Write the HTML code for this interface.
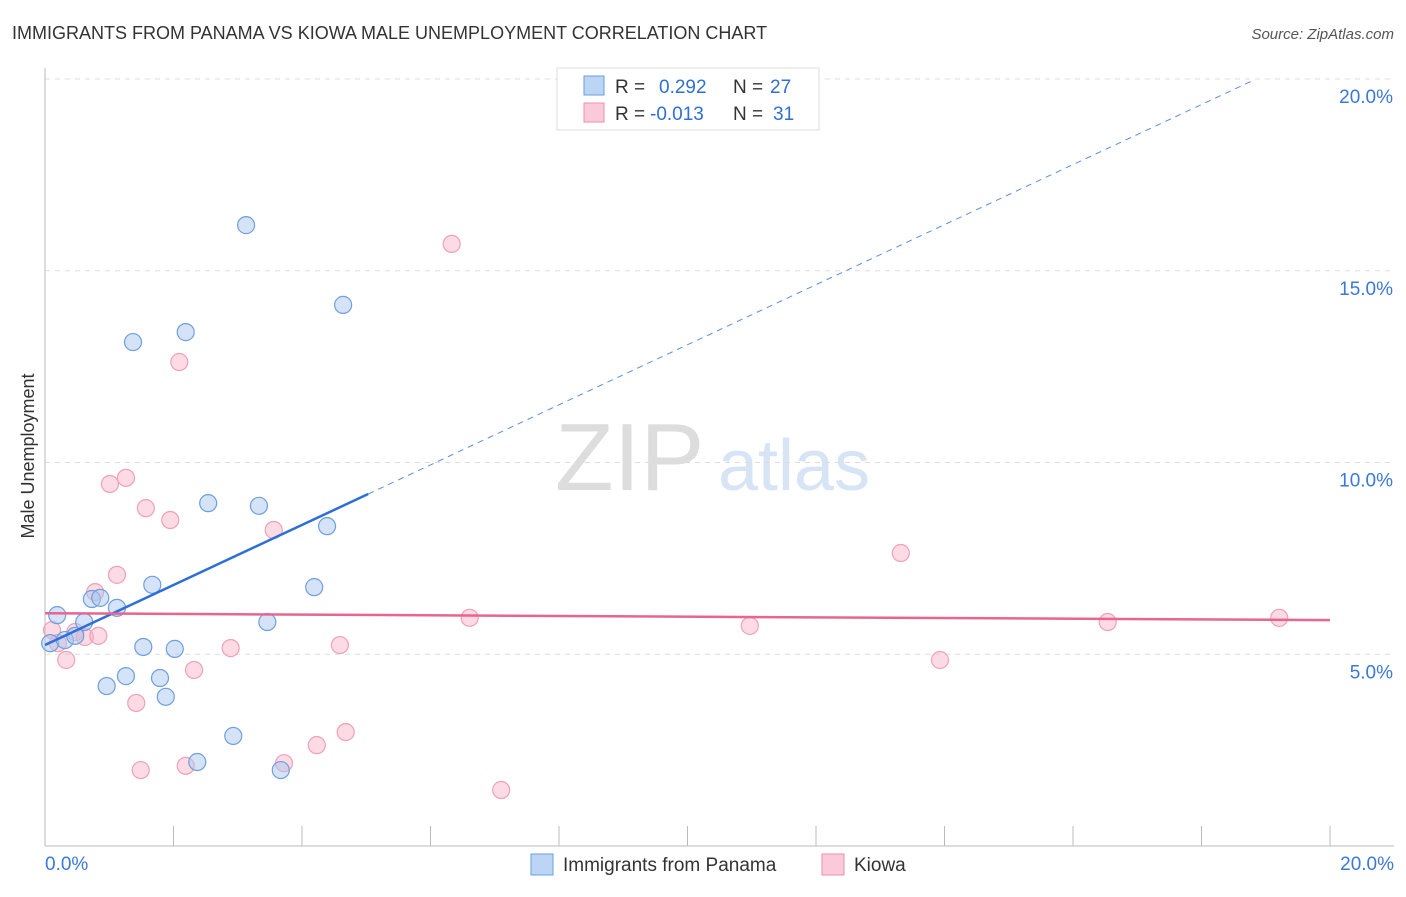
<!DOCTYPE html>
<html><head><meta charset="utf-8"><style>
body{margin:0;background:#fff;font-family:"Liberation Sans",sans-serif;}
svg text{font-family:"Liberation Sans",sans-serif;}
</style></head><body>
<svg width="1406" height="892" xmlns="http://www.w3.org/2000/svg" id="chart">
<text x="12" y="39" font-size="18" fill="#333">IMMIGRANTS FROM PANAMA VS KIOWA MALE UNEMPLOYMENT CORRELATION CHART</text>
<text x="1394" y="39" font-size="15" fill="#555" font-style="italic" text-anchor="end">Source: ZipAtlas.com</text>
<text x="555" y="490" font-size="96" fill="#ddd" font-family="Liberation Serif">ZIP</text>
<text x="718" y="490" font-size="72" fill="#d6e4f5">atlas</text>
<text transform="translate(34,456) rotate(-90)" font-size="18" fill="#333" text-anchor="middle">Male Unemployment</text>
<g id="grid"></g><g id="axes"></g><g id="marks"></g>
<g>
<rect x="557" y="68" width="262" height="62" fill="#fff" stroke="#ddd"/>
<rect x="584" y="76" width="20" height="19" fill="#bcd5f5" stroke="#6a9ee0"/>
<rect x="584" y="103" width="20" height="19" fill="#fbcad8" stroke="#f08fae"/>
<text x="615" y="93" font-size="19" fill="#333">R = <tspan x="659" fill="#2f6fd6">0.292</tspan><tspan x="733" fill="#333">N =</tspan><tspan x="770" fill="#2f6fd6">27</tspan></text>
<text x="615" y="120" font-size="19" fill="#333">R = <tspan x="650" fill="#2f6fd6">-0.013</tspan><tspan x="733" fill="#333">N =</tspan><tspan x="773" fill="#2f6fd6">31</tspan></text>
</g>
<g>
<rect x="531" y="854" width="22" height="21" fill="#bcd5f5" stroke="#6a9ee0"/>
<text x="563" y="871" font-size="19" fill="#333">Immigrants from Panama</text>
<rect x="822" y="854" width="22" height="21" fill="#fbcad8" stroke="#f08fae"/>
<text x="854" y="871" font-size="19" fill="#333">Kiowa</text>
</g>
</svg>
<script>
const yTicks=[5,10,15,20];
const yTickLabels=["5.0%","10.0%","15.0%","20.0%"];
const xTickLabels=["0.0%","20.0%"];
const panamaX=[0.08,0.19,0.31,0.47,0.61,0.73,0.86,1.12,0.96,1.26,1.37,1.53,1.67,1.79,1.88,2.02,2.19,2.37,2.54,2.93,3.13,3.33,3.46,3.67,4.19,4.39,4.64];
const panamaY=[5.29,6.02,5.37,5.48,5.84,6.44,6.47,6.21,4.17,4.43,13.14,5.19,6.81,4.38,3.89,5.14,13.40,2.19,8.94,2.87,16.19,8.87,5.84,1.98,6.75,8.34,14.11];
const kiowaX=[0.11,0.2,0.33,0.47,0.62,0.78,0.83,1.01,1.12,1.26,1.42,1.49,1.57,1.95,2.09,2.19,2.32,2.89,3.56,3.72,4.23,4.59,4.68,6.33,6.61,7.10,10.97,13.32,13.93,16.54,19.21];
const kiowaY=[5.63,5.29,4.85,5.58,5.45,6.62,5.48,9.44,7.07,9.60,3.73,1.98,8.81,8.50,12.62,2.09,4.59,5.16,8.24,2.16,2.63,5.24,2.97,15.70,5.95,1.46,5.74,7.64,4.85,5.84,5.95];
const panamaTrend=[5.24,20.9];
const panamaSolidEnd=5.03;
const kiowaTrend=[6.07,5.89];
const NS="http://www.w3.org/2000/svg";
const X0=45,X1=1330,Y0=846,PY=38.35;
const sx=v=>X0+v/20*(X1-X0);
const sy=v=>Y0-v*PY;
function mk(tag,attrs,parent){const e=document.createElementNS(NS,tag);for(const k in attrs)e.setAttribute(k,attrs[k]);document.getElementById(parent).appendChild(e);return e;}
yTicks.forEach((t,i)=>{
 const l=mk('line',{x1:45,x2:1394,y1:sy(t),y2:sy(t),stroke:'#ddd','stroke-dasharray':'5,5'},'grid');
 
 
 const tx=mk('text',{x:1393,y:sy(t)+24,'font-size':19,fill:'#3b78d8','text-anchor':'end'},'grid');
 tx.textContent=yTickLabels[i];
 
 
});
const ax=mk('line',{x1:45,x2:45,y1:68,y2:Y0,stroke:'#bbb'},'axes');


const bx=mk('line',{x1:45,x2:1394,y1:Y0,y2:Y0,stroke:'#bbb'},'axes');


for(let i=0;i<=10;i++){
 const t=mk('line',{x1:sx(i*2),x2:sx(i*2),y1:826,y2:Y0,stroke:'#bbb'},'axes');
 
 
}
[[0,'start',45],[20,'end',1394]].forEach((d,i)=>{
 const tx=mk('text',{x:d[2],y:870,'font-size':19,fill:'#3b78d8','text-anchor':d[1]},'axes');
 tx.textContent=xTickLabels[i];
 
 
});
kiowaX.forEach((v,i)=>{
 const c=mk('circle',{cx:sx(v),cy:sy(kiowaY[i]),r:8.5,fill:'rgba(248,176,198,0.45)',stroke:'#f0a0b8','stroke-width':1.2},'marks');
 
 
});
panamaX.forEach((v,i)=>{
 const c=mk('circle',{cx:sx(v),cy:sy(panamaY[i]),r:8.5,fill:'rgba(170,200,240,0.5)',stroke:'#6f9fdc','stroke-width':1.2},'marks');
 
 
});
const pf=x=>panamaTrend[0]+(panamaTrend[1]-panamaTrend[0])*x/20;
const pd=mk('line',{x1:sx(panamaSolidEnd),y1:sy(pf(panamaSolidEnd)),x2:sx(18.8),y2:sy(pf(18.8)),stroke:'#5b8fdc','stroke-width':1,'stroke-dasharray':'6,5'},'marks');


const ps=mk('line',{x1:sx(0),y1:sy(pf(0)),x2:sx(panamaSolidEnd),y2:sy(pf(panamaSolidEnd)),stroke:'#2d6fd8','stroke-width':2.5},'marks');


const kl=mk('line',{x1:sx(0),y1:sy(kiowaTrend[0]),x2:sx(20),y2:sy(kiowaTrend[1]),stroke:'#e8658f','stroke-width':2.5},'marks');


</script>
</body></html>
